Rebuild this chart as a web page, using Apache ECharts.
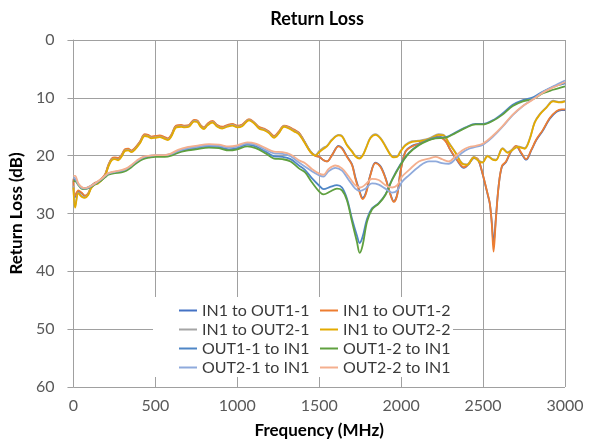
<!DOCTYPE html>
<html>
<head>
<meta charset="utf-8">
<script src="https://cdn.jsdelivr.net/npm/echarts@6/dist/echarts.min.js"></script>
<style>html,body{margin:0;padding:0;background:#fff}#c{width:597px;height:445px}</style>
</head>
<body>
<div id="c"></div>
<script>
// Axis ticks
const xTicks = [0, 500, 1000, 1500, 2000, 2500, 3000];
const yTicks = [0, 10, 20, 30, 40, 50, 60];

const seriesNames = [
  'IN1 to OUT1-1', 'IN1 to OUT1-2', 'IN1 to OUT2-1', 'IN1 to OUT2-2',
  'OUT1-1 to IN1', 'OUT1-2 to IN1', 'OUT2-1 to IN1', 'OUT2-2 to IN1'
];

// [frequency MHz, return loss dB]
const in1Out1_1 = [[0,24.3],[8,27.2],[30,26.2],[50,26.5],[70,27.0],[90,26.6],[107,25.5],[130,24.8],[150,24.6],[180,23.8],[195,23.2],[213,21.7],[233,20.6],[253,20.4],[273,20.5],[293,20.0],[314,19.0],[334,18.9],[354,19.2],[374,18.8],[405,17.7],[435,16.4],[455,16.5],[476,16.8],[500,16.7],[526,16.6],[557,16.9],[577,17.1],[597,16.5],[627,14.9],[658,14.8],[678,14.9],[705,14.8],[736,13.9],[756,14.0],[776,14.8],[797,15.2],[817,14.6],[848,14.1],[878,14.8],[908,15.1],[939,14.8],[970,14.6],[1000,14.9],[1030,14.7],[1071,13.8],[1102,14.3],[1132,15.1],[1163,15.4],[1193,15.9],[1224,16.7],[1254,15.9],[1285,14.9],[1315,15.1],[1346,15.6],[1376,16.1],[1407,17.4],[1445,19.2],[1476,20.0],[1500,20.2],[1527,20.8],[1547,21.0],[1578,19.9],[1618,18.3],[1640,18.7],[1669,20.1],[1700,21.5],[1720,23.7],[1745,26.0],[1765,27.3],[1786,26.3],[1812,23.3],[1843,21.2],[1873,21.8],[1904,23.8],[1935,26.7],[1955,27.9],[1976,26.7],[1996,22.7],[2027,19.2],[2067,18.3],[2108,17.9],[2146,17.4],[2187,17.0],[2228,16.7],[2270,17.4],[2300,19.0],[2341,20.8],[2383,22.1],[2414,21.4],[2444,20.4],[2471,20.8],[2496,23.1],[2527,26.6],[2541,28.3],[2553,31.5],[2564,35.1],[2578,30.8],[2595,25.2],[2615,21.9],[2640,21.1],[2671,19.3],[2702,18.4],[2733,19.6],[2763,20.7],[2794,19.1],[2825,17.3],[2866,15.6],[2907,13.6],[2948,12.4],[2979,12.1],[3000,12.1]];

const in1Out1_2 = [[0,24.0],[8,27.0],[30,26.0],[50,26.4],[70,26.9],[90,26.5],[107,25.4],[130,24.7],[150,24.5],[180,23.7],[195,23.1],[213,21.6],[233,20.5],[253,20.3],[273,20.4],[293,19.9],[314,18.9],[334,18.8],[354,19.1],[374,18.7],[405,17.6],[435,16.3],[455,16.4],[476,16.7],[500,16.6],[526,16.5],[557,16.8],[577,17.0],[597,16.4],[627,14.8],[658,14.7],[678,14.8],[705,14.7],[736,13.8],[756,13.9],[776,14.7],[797,15.1],[817,14.5],[848,14.0],[878,14.7],[908,15.0],[939,14.7],[970,14.5],[1000,14.8],[1030,14.6],[1071,13.7],[1102,14.2],[1132,15.0],[1163,15.3],[1193,15.8],[1224,16.6],[1254,15.8],[1285,14.8],[1315,15.0],[1346,15.5],[1376,16.0],[1407,17.4],[1445,19.3],[1476,20.0],[1500,20.2],[1527,20.8],[1547,21.0],[1578,19.9],[1618,18.4],[1640,18.8],[1669,20.2],[1700,21.6],[1720,23.9],[1745,26.2],[1765,27.5],[1786,26.5],[1812,23.4],[1843,21.3],[1873,21.9],[1904,23.9],[1935,26.8],[1955,28.0],[1976,26.8],[1996,22.8],[2027,19.3],[2067,18.4],[2108,18.0],[2146,17.5],[2187,17.1],[2228,16.8],[2270,17.5],[2300,19.0],[2341,20.7],[2383,22.0],[2414,21.3],[2444,20.3],[2471,20.7],[2496,23.0],[2527,26.5],[2541,28.2],[2553,31.7],[2564,36.6],[2578,31.1],[2595,25.3],[2615,21.8],[2640,21.0],[2671,19.2],[2702,18.3],[2733,19.5],[2763,20.6],[2794,19.0],[2825,17.2],[2866,15.5],[2907,13.5],[2948,12.3],[2979,12.0],[3000,12.0]];

const in1Out2_1 = [[0,25.2],[10,28.7],[30,26.4],[50,27.0],[70,27.2],[90,26.7],[107,25.6],[130,24.9],[150,24.7],[180,23.9],[195,23.3],[213,21.8],[233,20.7],[253,20.5],[273,20.7],[293,20.1],[314,19.1],[334,19.0],[354,19.3],[374,18.9],[405,17.8],[435,16.5],[455,16.6],[476,16.9],[500,16.8],[526,16.7],[557,17.0],[577,17.2],[597,16.6],[627,15.0],[658,14.9],[678,15.0],[705,14.9],[736,14.0],[756,14.1],[776,14.9],[797,15.3],[817,14.7],[848,14.2],[878,14.9],[908,15.2],[939,14.9],[970,14.7],[1000,15.0],[1030,14.8],[1071,13.8],[1102,14.3],[1132,15.2],[1163,15.5],[1193,16.0],[1224,16.8],[1254,16.0],[1285,14.9],[1315,15.2],[1346,15.7],[1376,16.2],[1407,17.5],[1445,19.2],[1476,19.9],[1500,19.2],[1527,18.6],[1547,18.3],[1578,17.2],[1618,16.4],[1640,16.6],[1669,18.1],[1700,19.2],[1720,20.0],[1745,20.4],[1765,19.9],[1786,18.6],[1812,16.9],[1843,16.3],[1873,16.9],[1904,18.3],[1935,19.8],[1955,20.2],[1976,20.1],[1996,19.2],[2027,18.1],[2067,17.5],[2108,17.4],[2149,17.2],[2187,16.8],[2228,16.3],[2259,16.4],[2290,17.7],[2331,19.4],[2372,21.3],[2403,21.5],[2444,20.2],[2475,20.9],[2496,21.1],[2527,20.0],[2558,20.6],[2578,20.7],[2619,18.7],[2650,19.4],[2681,18.9],[2712,18.4],[2753,18.7],[2784,17.1],[2815,14.2],[2846,12.8],[2887,11.6],[2928,10.5],[2969,10.7],[3000,10.5]];

const in1Out2_2 = [[0,25.5],[10,29.0],[30,26.5],[50,27.1],[70,27.3],[90,26.8],[107,25.7],[130,25.0],[150,24.8],[180,24.0],[195,23.4],[213,21.9],[233,20.8],[253,20.6],[273,20.8],[293,20.2],[314,19.2],[334,19.1],[354,19.4],[374,19.0],[405,17.9],[435,16.6],[455,16.7],[476,17.0],[500,16.9],[526,16.8],[557,17.1],[577,17.3],[597,16.7],[627,15.1],[658,15.0],[678,15.1],[705,15.0],[736,14.1],[756,14.2],[776,15.0],[797,15.4],[817,14.8],[848,14.3],[878,15.0],[908,15.3],[939,15.0],[970,14.8],[1000,15.1],[1030,14.9],[1071,13.9],[1102,14.4],[1132,15.3],[1163,15.6],[1193,16.1],[1224,16.9],[1254,16.1],[1285,15.0],[1315,15.3],[1346,15.8],[1376,16.3],[1407,17.6],[1445,19.3],[1476,20.0],[1500,19.4],[1527,18.8],[1547,18.4],[1578,17.3],[1618,16.5],[1640,16.7],[1669,18.2],[1700,19.3],[1720,20.1],[1745,20.5],[1765,20.0],[1786,18.7],[1812,17.0],[1843,16.4],[1873,17.0],[1904,18.4],[1935,19.9],[1955,20.3],[1976,20.2],[1996,19.3],[2027,18.2],[2067,17.6],[2108,17.5],[2149,17.3],[2187,16.9],[2228,16.4],[2259,16.5],[2290,17.8],[2331,19.5],[2372,21.4],[2403,21.6],[2444,20.3],[2475,21.0],[2496,21.2],[2527,20.1],[2558,20.7],[2578,20.8],[2619,18.8],[2650,19.5],[2681,19.0],[2712,18.5],[2753,18.8],[2784,17.2],[2815,14.3],[2846,12.9],[2887,11.7],[2928,10.6],[2969,10.8],[3000,10.6]];

const out1_1In1 = [[0,24.1],[10,24.2],[30,24.9],[50,25.5],[70,25.6],[100,25.3],[130,24.8],[170,24.1],[195,23.5],[213,23.1],[253,22.8],[293,22.7],[323,22.4],[354,21.8],[384,21.1],[425,20.4],[470,20.1],[500,20.0],[557,20.0],[597,19.8],[638,19.3],[700,18.9],[746,18.7],[827,18.4],[888,18.5],[949,18.9],[1000,18.7],[1061,18.1],[1112,18.4],[1173,19.3],[1224,20.1],[1275,20.2],[1325,20.6],[1376,21.7],[1414,22.5],[1455,23.9],[1500,25.2],[1527,25.8],[1567,25.4],[1608,25.1],[1639,25.5],[1669,27.4],[1700,30.9],[1730,33.8],[1747,35.1],[1765,34.0],[1792,30.9],[1822,29.1],[1863,28.2],[1904,26.7],[1945,24.1],[1996,21.5],[2047,19.5],[2108,18.1],[2170,17.2],[2210,16.9],[2270,16.8],[2331,16.0],[2393,15.1],[2455,14.5],[2500,14.5],[2558,13.9],[2619,12.7],[2681,11.2],[2743,10.4],[2805,9.9],[2866,8.9],[2928,8.1],[3000,7.5]];

const out1_2In1 = [[0,24.4],[10,24.4],[30,25.1],[50,25.7],[70,25.8],[100,25.5],[130,25.0],[170,24.3],[195,23.7],[213,23.3],[253,23.0],[293,22.9],[323,22.6],[354,22.0],[384,21.3],[425,20.6],[470,20.3],[500,20.2],[557,20.2],[597,20.0],[638,19.5],[700,19.1],[746,18.9],[827,18.6],[888,18.7],[949,19.1],[1000,18.9],[1061,18.4],[1112,18.7],[1173,19.6],[1224,20.5],[1275,20.6],[1325,21.0],[1376,22.2],[1414,22.9],[1455,24.6],[1500,26.2],[1527,26.7],[1567,26.2],[1608,25.7],[1639,26.0],[1669,27.7],[1700,31.4],[1730,34.9],[1747,36.8],[1765,35.5],[1792,31.4],[1822,29.3],[1863,28.3],[1904,26.8],[1945,24.2],[1996,21.6],[2047,19.6],[2108,18.2],[2170,17.3],[2210,17.0],[2270,16.9],[2331,16.1],[2393,15.2],[2455,14.6],[2500,14.6],[2558,14.0],[2619,12.9],[2681,11.4],[2743,10.6],[2805,10.2],[2866,9.2],[2928,8.6],[3000,8.0]];

const out2_1In1 = [[0,23.8],[10,23.9],[30,25.0],[50,25.6],[70,25.7],[100,25.4],[130,24.9],[170,24.1],[195,23.5],[213,23.1],[253,22.8],[293,22.6],[323,22.3],[354,21.7],[384,21.0],[425,20.3],[470,20.0],[500,19.9],[557,19.9],[597,19.7],[638,19.2],[700,18.7],[746,18.5],[827,18.2],[888,18.3],[949,18.6],[1000,18.4],[1061,17.9],[1112,18.1],[1173,19.0],[1224,19.6],[1275,19.7],[1325,20.1],[1376,21.2],[1414,21.9],[1455,22.7],[1500,23.4],[1527,23.6],[1557,22.7],[1598,22.1],[1639,22.6],[1680,24.2],[1720,25.7],[1751,26.1],[1782,25.7],[1822,24.8],[1863,25.0],[1904,25.7],[1945,26.4],[1976,26.0],[2006,24.5],[2047,23.4],[2108,21.9],[2170,21.0],[2210,21.0],[2249,21.3],[2290,21.4],[2331,20.6],[2372,19.5],[2414,18.8],[2455,18.5],[2500,18.1],[2558,16.8],[2619,15.0],[2681,13.0],[2743,11.4],[2805,10.2],[2866,9.0],[2928,8.0],[3000,7.0]];

const out2_2In1 = [[0,23.5],[10,23.5],[30,24.8],[50,25.4],[70,25.6],[100,25.3],[130,24.8],[170,24.0],[195,23.4],[213,23.0],[253,22.7],[293,22.5],[323,22.2],[354,21.6],[384,20.9],[425,20.2],[470,20.0],[500,19.9],[557,19.9],[597,19.6],[638,19.0],[700,18.5],[746,18.3],[827,18.0],[888,18.1],[949,18.4],[1000,18.2],[1061,17.7],[1112,17.9],[1173,18.7],[1224,19.3],[1275,19.4],[1325,19.8],[1376,20.8],[1414,21.3],[1455,22.3],[1500,23.1],[1527,23.3],[1557,22.3],[1598,21.7],[1639,22.2],[1680,23.6],[1720,25.1],[1751,25.5],[1782,25.0],[1822,24.0],[1863,24.2],[1904,25.1],[1945,25.5],[1976,25.1],[2006,23.6],[2047,22.5],[2108,21.0],[2170,20.5],[2210,20.2],[2249,20.6],[2290,21.0],[2331,20.1],[2372,19.1],[2414,18.5],[2455,18.3],[2500,17.9],[2558,16.6],[2619,14.9],[2681,12.9],[2743,11.4],[2805,10.3],[2866,9.1],[2928,8.2],[3000,7.3]];

const seriesData = [in1Out1_1, in1Out1_2, in1Out2_1, in1Out2_2, out1_1In1, out1_2In1, out2_1In1, out2_2In1];
const colors = ['#4472C4', '#ED7D31', '#A5A5A5', '#E3AA00', '#4F86C6', '#5FA03F', '#8FAADC', '#F4AF8E'];

const FONT = 'Lato';
const chart = echarts.init(document.getElementById('c'), null, {renderer: 'canvas'});

const legendText = {fontFamily: FONT, fontSize: 16, color: '#3a3a3a', lineHeight: 19};
const legendCommon = {
  orient: 'vertical', icon: 'rect', itemWidth: 18, itemHeight: 2, itemGap: 0,
  textStyle: legendText, padding: 0, z: 6, selectedMode: false
};

chart.setOption({
  animation: false,
  backgroundColor: '#fff',
  color: colors,
  title: {
    text: 'Return Loss', left: 312, top: 5, textAlign: 'center',
    textStyle: {fontFamily: FONT, fontSize: 18, fontWeight: 'bold', color: '#000'}
  },
  grid: {left: 73, right: 32, top: 40, bottom: 58, containLabel: false},
  xAxis: {
    type: 'value', min: xTicks[0], max: xTicks[xTicks.length - 1], interval: 500,
    name: 'Frequency (MHz)', nameLocation: 'middle', nameGap: 35,
    nameTextStyle: {fontFamily: FONT, fontSize: 17, fontWeight: 'bold', color: '#000'},
    axisLine: {show: true, lineStyle: {color: '#a0a0a0', width: 1}},
    axisTick: {show: true, length: 5, lineStyle: {color: '#a0a0a0'}},
    axisLabel: {fontFamily: FONT, fontSize: 16, color: '#595959', margin: 11, formatter: v => String(v)},
    splitLine: {show: true, lineStyle: {color: '#a0a0a0', width: 1}}
  },
  yAxis: {
    type: 'value', inverse: true, min: yTicks[0], max: yTicks[yTicks.length - 1], interval: 10,
    name: 'Return Loss (dB)', nameLocation: 'middle', nameGap: 42, nameRotate: 90,
    nameTextStyle: {fontFamily: FONT, fontSize: 17, fontWeight: 'bold', color: '#000'},
    axisLine: {show: true, lineStyle: {color: '#a0a0a0', width: 1}},
    axisTick: {show: true, length: 6, lineStyle: {color: '#a0a0a0'}},
    axisLabel: {fontFamily: FONT, fontSize: 16, color: '#595959', margin: 19, formatter: v => String(v)},
    splitLine: {show: true, lineStyle: {color: '#a0a0a0', width: 1}}
  },
  graphic: [{
    type: 'rect', z: 5, silent: true,
    shape: {x: 153, y: 297, width: 300, height: 80},
    style: {fill: '#fff'}
  }],
  legend: [
    Object.assign({left: 179, top: 301, data: [seriesNames[0], seriesNames[2], seriesNames[4], seriesNames[6]]}, legendCommon),
    Object.assign({left: 320, top: 301, data: [seriesNames[1], seriesNames[3], seriesNames[5], seriesNames[7]]}, legendCommon)
  ],
  series: seriesNames.map((n, i) => ({
    name: n, type: 'line', data: seriesData[i], smooth: 0.35,
    showSymbol: false, symbol: 'none',
    lineStyle: {width: 1.8, color: colors[i]}, itemStyle: {color: colors[i]},
    z: 2
  }))
});
</script>
</body>
</html>
